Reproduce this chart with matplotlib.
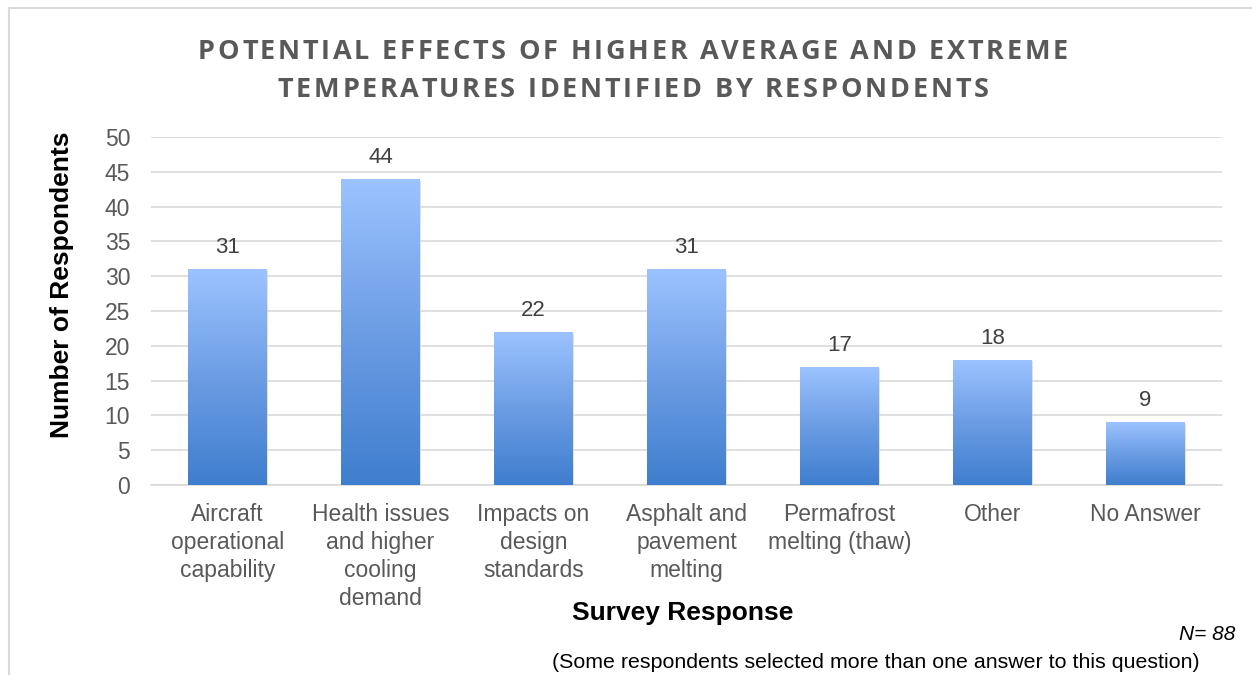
import matplotlib.pyplot as plt
import numpy as np
from matplotlib.colors import LinearSegmentedColormap
from matplotlib.lines import Line2D

categories = ["Aircraft\noperational\ncapability", "Health issues\nand higher\ncooling\ndemand",
              "Impacts on\ndesign\nstandards", "Asphalt and\npavement\nmelting",
              "Permafrost\nmelting (thaw)", "Other", "No Answer"]
counts = [31, 44, 22, 31, 17, 18, 9]
y_ticks = list(range(0, 55, 5))

title_lines = ["POTENTIAL EFFECTS OF HIGHER AVERAGE AND EXTREME",
               "TEMPERATURES IDENTIFIED BY RESPONDENTS"]

W, H = 1252, 675
fig = plt.figure(figsize=(W / 100, H / 100), dpi=100)
ax = fig.add_axes([151 / W, 1 - 485 / H, 1071 / W, 348 / H])

grad = LinearSegmentedColormap.from_list("bar", ["#3F7ECE", "#6C9DE4", "#9CC3FF"])
x = np.arange(len(counts))
bars = ax.bar(x, counts, width=0.51, color="none", zorder=3)
for b in bars:
    x0, w, h = b.get_x(), b.get_width(), b.get_height()
    # soft shadow
    ax.bar(x0 + w / 2 + 0.012, h, width=w, bottom=-0.25, color="#d0d0d0", zorder=2, alpha=0.6)
    img = np.linspace(0, 1, 256).reshape(-1, 1)
    im = ax.imshow(img, cmap=grad, origin="lower", aspect="auto",
                   extent=[x0, x0 + w, 0, h], zorder=3)
    im.set_clip_path(b)
    ax.text(x0 + w / 2, h + 2.3, str(h), ha="center", va="baseline",
            fontsize=16, color="#404040", family="Liberation Sans")

ax.set_xlim(-0.5, len(counts) - 0.5)
ax.set_ylim(0, 50)
ax.set_yticks(y_ticks)
ax.set_xticks(x)
ax.set_xticklabels(categories, fontsize=16.5, color="#595959", family="Liberation Sans",
                   linespacing=1.27, va="top")
ax.tick_params(axis="y", labelsize=16.5, labelcolor="#595959", length=0, pad=15)
ax.tick_params(axis="x", length=0, pad=13)
for lab in ax.get_yticklabels():
    lab.set_family("Liberation Sans")
ax.grid(axis="y", color="#d9d9d9", linewidth=1.2, zorder=0)
ax.set_axisbelow(True)
for s in ["top", "right", "left"]:
    ax.spines[s].set_visible(False)
ax.spines["bottom"].set_color("#d9d9d9")
ax.spines["bottom"].set_linewidth(1.2)

# letter-spaced title, drawn char by char
renderer = fig.canvas.get_renderer()
tracking = 2.75
for line, yc in zip(title_lines, [52, 90]):
    def width_of(s):
        t = fig.text(0, 0, s, fontsize=19.5, fontweight="bold", family="Open Sans")
        wpx = t.get_window_extent(renderer).width if s else 0
        t.remove()
        return wpx
    total = width_of(line) + tracking * (len(line) - 1)
    start = 633 - total / 2
    for i, ch in enumerate(line):
        if ch == " ":
            continue
        xp = start + width_of(line[:i]) + tracking * i
        fig.text(xp / W, 1 - yc / H, ch, ha="left", va="center", fontsize=19.5,
                 fontweight="bold", color="#595959", family="Open Sans")

fig.text(62 / W, 1 - 285 / H, "Number of Respondents", rotation=90, ha="center", va="center",
         fontsize=19, fontweight="bold", color="black", family="Liberation Sans")
fig.text(683 / W, 1 - 613 / H, "Survey Response", ha="center", va="center",
         fontsize=19, fontweight="bold", color="black", family="Liberation Sans")
fig.text(1235 / W, 1 - 635 / H, "N= 88", ha="right", va="center", fontsize=15,
         style="italic", color="black", family="Liberation Sans")
fig.text(1200 / W, 1 - 663 / H, "(Some respondents selected more than one answer to this question)",
         ha="right", va="center", fontsize=15.4, color="black", family="Liberation Sans")

# chart frame (top and left edges)
fig.add_artist(Line2D([9 / W, 1], [1 - 8 / H, 1 - 8 / H], color="#d9d9d9", lw=1.5))
fig.add_artist(Line2D([9 / W, 9 / W], [0, 1 - 8 / H], color="#d9d9d9", lw=1.5))

fig.savefig("out.png", dpi=100)
